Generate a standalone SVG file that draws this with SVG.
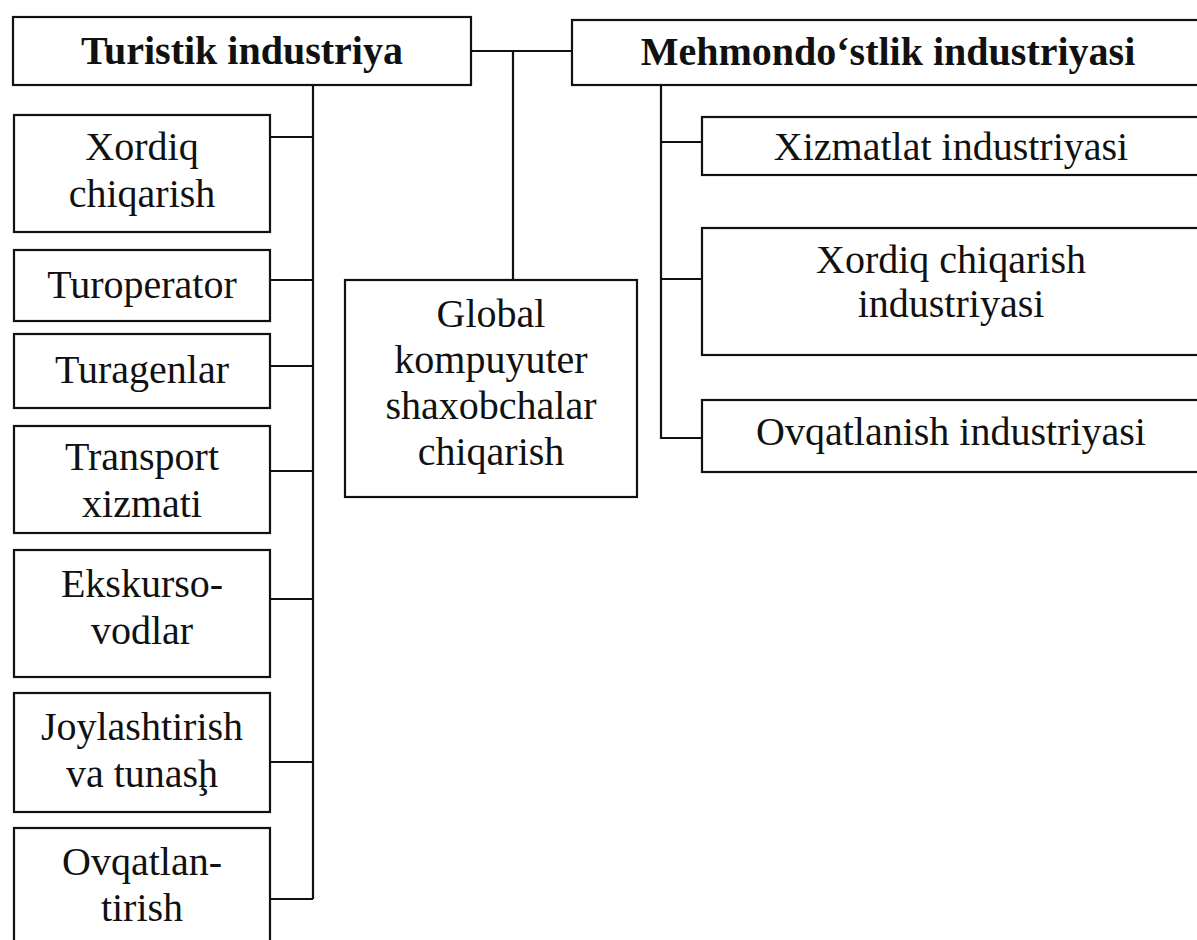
<svg xmlns="http://www.w3.org/2000/svg" width="1197" height="940" viewBox="0 0 1197 940">
<style>
.box{fill:#fff;stroke:#111;stroke-width:2.2}
.ln{fill:none;stroke:#111;stroke-width:2.2}
text{font-family:"Liberation Serif","Times New Roman",serif;font-size:40px;fill:#111;text-anchor:middle}
.b{font-weight:bold}
</style>
<rect width="1197" height="940" fill="#fff"/>
<g id="connectors">
<path class="ln" d="M471 51H572M513 51V280"/>
<path class="ln" d="M313 86V899M270 137H313M270 280H313M270 366H313M270 471H313M270 599H313M270 762H313M270 899H313"/>
<path class="ln" d="M661 85V438H702M661 142H702M661 279H702"/>
</g>
<g id="turistik"><rect class="box" x="13" y="17" width="458" height="68"/><text class="b" x="242" y="64">Turistik industriya</text></g>
<g id="mehmondostlik"><rect class="box" x="572" y="20" width="632" height="65"/><text class="b" x="888" y="65">Mehmondo‘stlik industriyasi</text></g>
<g id="xordiq"><rect class="box" x="14" y="115" width="256" height="117"/><text x="142" y="160">Xordiq</text><text x="142" y="207">chiqarish</text></g>
<g id="turoperator"><rect class="box" x="14" y="250" width="256" height="71"/><text x="142" y="298">Turoperator</text></g>
<g id="turagenlar"><rect class="box" x="14" y="334" width="256" height="74"/><text x="142" y="383">Turagenlar</text></g>
<g id="transport"><rect class="box" x="14" y="426" width="256" height="107"/><text x="142" y="470">Transport</text><text x="142" y="517">xizmati</text></g>
<g id="ekskursovodlar"><rect class="box" x="14" y="550" width="256" height="127"/><text x="142" y="597">Ekskurso-</text><text x="142" y="644">vodlar</text></g>
<g id="joylashtirish"><rect class="box" x="14" y="693" width="256" height="119"/><text x="142" y="740">Joylashtirish</text><text x="142" y="787">va tunasḩ</text></g>
<g id="ovqatlantirish"><rect class="box" x="14" y="828" width="256" height="120"/><text x="142" y="875">Ovqatlan-</text><text x="142" y="921">tirish</text></g>
<g id="global"><rect class="box" x="345" y="280" width="292" height="217"/><text x="491" y="327">Global</text><text x="491" y="373">kompuyuter</text><text x="491" y="419">shaxobchalar</text><text x="491" y="465">chiqarish</text></g>
<g id="xizmatlat"><rect class="box" x="702" y="117" width="502" height="58"/><text x="951" y="160">Xizmatlat industriyasi</text></g>
<g id="xordiq-ind"><rect class="box" x="702" y="228" width="502" height="127"/><text x="951" y="273">Xordiq chiqarish</text><text x="951" y="317">industriyasi</text></g>
<g id="ovqatlanish"><rect class="box" x="702" y="400" width="502" height="72"/><text x="951" y="445">Ovqatlanish industriyasi</text></g>
</svg>
